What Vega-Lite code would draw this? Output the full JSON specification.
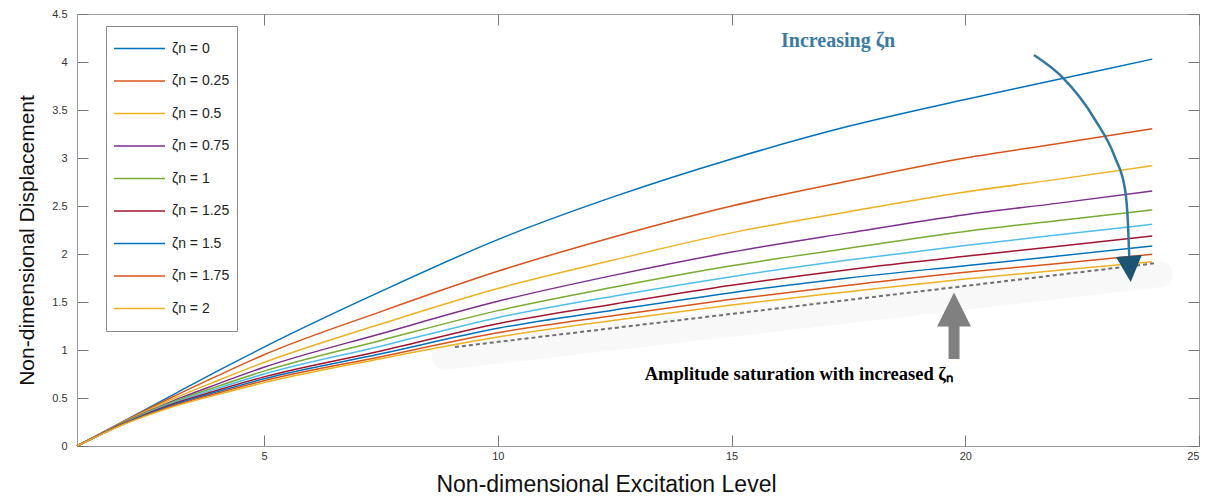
{
  "$schema": "https://vega.github.io/schema/vega-lite/v6.json",
  "width": 1122,
  "height": 432,
  "autosize": "none",
  "padding": {"left": 77, "top": 14, "right": 9, "bottom": 54},
  "background": "white",
  "config": {
    "view": {"stroke": "#a0a0a0", "strokeWidth": 1},
    "font": "Liberation Sans"
  },
  "datasets": {
    "curves": [
      {"x": 1, "y": 0, "s": "ζn = 0"}, {"x": 2, "y": 0.26, "s": "ζn = 0"}, {"x": 3, "y": 0.52, "s": "ζn = 0"}, {"x": 4, "y": 0.78, "s": "ζn = 0"}, {"x": 5, "y": 1.03, "s": "ζn = 0"}, {"x": 7.5, "y": 1.61, "s": "ζn = 0"}, {"x": 10, "y": 2.15, "s": "ζn = 0"}, {"x": 12.5, "y": 2.6, "s": "ζn = 0"}, {"x": 15, "y": 2.99, "s": "ζn = 0"}, {"x": 17.5, "y": 3.33, "s": "ζn = 0"}, {"x": 20, "y": 3.61, "s": "ζn = 0"}, {"x": 22, "y": 3.82, "s": "ζn = 0"}, {"x": 24, "y": 4.03, "s": "ζn = 0"},
      {"x": 1, "y": 0, "s": "ζn = 0.25"}, {"x": 2, "y": 0.255, "s": "ζn = 0.25"}, {"x": 3, "y": 0.5, "s": "ζn = 0.25"}, {"x": 4, "y": 0.73, "s": "ζn = 0.25"}, {"x": 5, "y": 0.95, "s": "ζn = 0.25"}, {"x": 7.5, "y": 1.4, "s": "ζn = 0.25"}, {"x": 10, "y": 1.82, "s": "ζn = 0.25"}, {"x": 12.5, "y": 2.18, "s": "ζn = 0.25"}, {"x": 15, "y": 2.5, "s": "ζn = 0.25"}, {"x": 17.5, "y": 2.76, "s": "ζn = 0.25"}, {"x": 20, "y": 3.0, "s": "ζn = 0.25"}, {"x": 22, "y": 3.15, "s": "ζn = 0.25"}, {"x": 24, "y": 3.305, "s": "ζn = 0.25"},
      {"x": 1, "y": 0, "s": "ζn = 0.5"}, {"x": 2, "y": 0.25, "s": "ζn = 0.5"}, {"x": 3, "y": 0.48, "s": "ζn = 0.5"}, {"x": 4, "y": 0.68, "s": "ζn = 0.5"}, {"x": 5, "y": 0.87, "s": "ζn = 0.5"}, {"x": 7.5, "y": 1.27, "s": "ζn = 0.5"}, {"x": 10, "y": 1.64, "s": "ζn = 0.5"}, {"x": 12.5, "y": 1.94, "s": "ζn = 0.5"}, {"x": 15, "y": 2.22, "s": "ζn = 0.5"}, {"x": 17.5, "y": 2.44, "s": "ζn = 0.5"}, {"x": 20, "y": 2.646, "s": "ζn = 0.5"}, {"x": 22, "y": 2.78, "s": "ζn = 0.5"}, {"x": 24, "y": 2.92, "s": "ζn = 0.5"},
      {"x": 1, "y": 0, "s": "ζn = 0.75"}, {"x": 2, "y": 0.245, "s": "ζn = 0.75"}, {"x": 3, "y": 0.46, "s": "ζn = 0.75"}, {"x": 4, "y": 0.645, "s": "ζn = 0.75"}, {"x": 5, "y": 0.82, "s": "ζn = 0.75"}, {"x": 7.5, "y": 1.17, "s": "ζn = 0.75"}, {"x": 10, "y": 1.507, "s": "ζn = 0.75"}, {"x": 12.5, "y": 1.78, "s": "ζn = 0.75"}, {"x": 15, "y": 2.02, "s": "ζn = 0.75"}, {"x": 17.5, "y": 2.22, "s": "ζn = 0.75"}, {"x": 20, "y": 2.41, "s": "ζn = 0.75"}, {"x": 22, "y": 2.53, "s": "ζn = 0.75"}, {"x": 24, "y": 2.656, "s": "ζn = 0.75"},
      {"x": 1, "y": 0, "s": "ζn = 1"}, {"x": 2, "y": 0.24, "s": "ζn = 1"}, {"x": 3, "y": 0.45, "s": "ζn = 1"}, {"x": 4, "y": 0.62, "s": "ζn = 1"}, {"x": 5, "y": 0.78, "s": "ζn = 1"}, {"x": 7.5, "y": 1.1, "s": "ζn = 1"}, {"x": 10, "y": 1.41, "s": "ζn = 1"}, {"x": 12.5, "y": 1.656, "s": "ζn = 1"}, {"x": 15, "y": 1.877, "s": "ζn = 1"}, {"x": 17.5, "y": 2.06, "s": "ζn = 1"}, {"x": 20, "y": 2.234, "s": "ζn = 1"}, {"x": 22, "y": 2.35, "s": "ζn = 1"}, {"x": 24, "y": 2.46, "s": "ζn = 1"},
      {"x": 1, "y": 0, "s": "unlabelled"}, {"x": 2, "y": 0.235, "s": "unlabelled"}, {"x": 3, "y": 0.44, "s": "unlabelled"}, {"x": 4, "y": 0.6, "s": "unlabelled"}, {"x": 5, "y": 0.75, "s": "unlabelled"}, {"x": 7.5, "y": 1.04, "s": "unlabelled"}, {"x": 10, "y": 1.337, "s": "unlabelled"}, {"x": 12.5, "y": 1.5625, "s": "unlabelled"}, {"x": 15, "y": 1.764, "s": "unlabelled"}, {"x": 17.5, "y": 1.937, "s": "unlabelled"}, {"x": 20, "y": 2.088, "s": "unlabelled"}, {"x": 22, "y": 2.2, "s": "unlabelled"}, {"x": 24, "y": 2.31, "s": "unlabelled"},
      {"x": 1, "y": 0, "s": "ζn = 1.25"}, {"x": 2, "y": 0.232, "s": "ζn = 1.25"}, {"x": 3, "y": 0.43, "s": "ζn = 1.25"}, {"x": 4, "y": 0.58, "s": "ζn = 1.25"}, {"x": 5, "y": 0.72, "s": "ζn = 1.25"}, {"x": 7.5, "y": 0.99, "s": "ζn = 1.25"}, {"x": 10, "y": 1.274, "s": "ζn = 1.25"}, {"x": 12.5, "y": 1.48, "s": "ζn = 1.25"}, {"x": 15, "y": 1.674, "s": "ζn = 1.25"}, {"x": 17.5, "y": 1.837, "s": "ζn = 1.25"}, {"x": 20, "y": 1.976, "s": "ζn = 1.25"}, {"x": 22, "y": 2.08, "s": "ζn = 1.25"}, {"x": 24, "y": 2.1875, "s": "ζn = 1.25"},
      {"x": 1, "y": 0, "s": "ζn = 1.5"}, {"x": 2, "y": 0.23, "s": "ζn = 1.5"}, {"x": 3, "y": 0.42, "s": "ζn = 1.5"}, {"x": 4, "y": 0.565, "s": "ζn = 1.5"}, {"x": 5, "y": 0.7, "s": "ζn = 1.5"}, {"x": 7.5, "y": 0.96, "s": "ζn = 1.5"}, {"x": 10, "y": 1.226, "s": "ζn = 1.5"}, {"x": 12.5, "y": 1.417, "s": "ζn = 1.5"}, {"x": 15, "y": 1.597, "s": "ζn = 1.5"}, {"x": 17.5, "y": 1.75, "s": "ζn = 1.5"}, {"x": 20, "y": 1.878, "s": "ζn = 1.5"}, {"x": 22, "y": 1.98, "s": "ζn = 1.5"}, {"x": 24, "y": 2.083, "s": "ζn = 1.5"},
      {"x": 1, "y": 0, "s": "ζn = 1.75"}, {"x": 2, "y": 0.228, "s": "ζn = 1.75"}, {"x": 3, "y": 0.41, "s": "ζn = 1.75"}, {"x": 4, "y": 0.55, "s": "ζn = 1.75"}, {"x": 5, "y": 0.68, "s": "ζn = 1.75"}, {"x": 7.5, "y": 0.93, "s": "ζn = 1.75"}, {"x": 10, "y": 1.18, "s": "ζn = 1.75"}, {"x": 12.5, "y": 1.36, "s": "ζn = 1.75"}, {"x": 15, "y": 1.528, "s": "ζn = 1.75"}, {"x": 17.5, "y": 1.674, "s": "ζn = 1.75"}, {"x": 20, "y": 1.809, "s": "ζn = 1.75"}, {"x": 22, "y": 1.9, "s": "ζn = 1.75"}, {"x": 24, "y": 1.997, "s": "ζn = 1.75"},
      {"x": 1, "y": 0, "s": "ζn = 2"}, {"x": 2, "y": 0.225, "s": "ζn = 2"}, {"x": 3, "y": 0.4, "s": "ζn = 2"}, {"x": 4, "y": 0.535, "s": "ζn = 2"}, {"x": 5, "y": 0.66, "s": "ζn = 2"}, {"x": 7.5, "y": 0.91, "s": "ζn = 2"}, {"x": 10, "y": 1.135, "s": "ζn = 2"}, {"x": 12.5, "y": 1.31, "s": "ζn = 2"}, {"x": 15, "y": 1.469, "s": "ζn = 2"}, {"x": 17.5, "y": 1.607, "s": "ζn = 2"}, {"x": 20, "y": 1.74, "s": "ζn = 2"}, {"x": 22, "y": 1.83, "s": "ζn = 2"}, {"x": 24, "y": 1.92, "s": "ζn = 2"}
    ],
    "arc": [
      {"x": 21.47, "y": 4.073, "o": 1}, {"x": 22.07, "y": 3.844, "o": 2}, {"x": 22.78, "y": 3.396, "o": 3}, {"x": 23.2, "y": 3.01, "o": 4}, {"x": 23.42, "y": 2.667, "o": 5}, {"x": 23.48, "y": 2.323, "o": 6}, {"x": 23.51, "y": 1.95, "o": 7}
    ]
  },
  "layer": [
    {
      "data": {"values": [{"x": 8.87, "y": 0.93}, {"x": 24.17, "y": 1.79}]},
      "mark": {"type": "line", "color": "#f8f8f8", "strokeWidth": 26, "strokeCap": "round"},
      "encoding": {
        "x": {"field": "x", "type": "quantitative", "scale": {"domain": [1, 25], "nice": false, "zero": false}, "axis": null},
        "y": {"field": "y", "type": "quantitative", "scale": {"domain": [0, 4.5], "nice": false}, "axis": null}
      }
    },
    {
      "data": {"name": "curves"},
      "mark": {"type": "line", "strokeWidth": 1.5, "interpolate": "monotone"},
      "encoding": {
        "x": {"field": "x", "type": "quantitative", "scale": {"domain": [1, 25], "nice": false, "zero": false},
          "axis": {"orient": "bottom", "values": [5, 10, 15, 20, 25], "title": "Non-dimensional Excitation Level", "titleFontSize": 23, "titleFontWeight": "normal", "titleColor": "#111", "titleFont": "Liberation Sans", "titleX": 529, "titleAlign": "center", "labelFont": "Liberation Sans", "labelFontSize": 11, "labelColor": "#333", "tickSize": -11, "tickColor": "#777", "domainColor": "#999", "labelPadding": 15, "titlePadding": 12, "grid": false}},
        "y": {"field": "y", "type": "quantitative", "scale": {"domain": [0, 4.5], "nice": false},
          "axis": {"orient": "left", "values": [0, 0.5, 1, 1.5, 2, 2.5, 3, 3.5, 4, 4.5], "format": "~g", "title": "Non-dimensional Displacement", "titleFontSize": 21, "titleFontWeight": "normal", "titleColor": "#111", "titleFont": "Liberation Sans", "titleY": 226, "titleAlign": "center", "labelFont": "Liberation Sans", "labelFontSize": 11, "labelColor": "#333", "tickSize": -11, "tickColor": "#777", "domainColor": "#999", "labelPadding": 21, "titlePadding": 14, "grid": false}},
        "color": {"field": "s", "type": "nominal",
          "scale": {"domain": ["ζn = 0", "ζn = 0.25", "ζn = 0.5", "ζn = 0.75", "ζn = 1", "unlabelled", "ζn = 1.25", "ζn = 1.5", "ζn = 1.75", "ζn = 2"],
                    "range": ["#0072BD", "#D95319", "#EDB120", "#7E2F8E", "#77AC30", "#4DBEEE", "#A2142F", "#0072BD", "#D95319", "#EDB120"]},
          "legend": {"orient": "none", "legendX": 29, "legendY": 12, "title": null,
            "values": ["ζn = 0", "ζn = 0.25", "ζn = 0.5", "ζn = 0.75", "ζn = 1", "ζn = 1.25", "ζn = 1.5", "ζn = 1.75", "ζn = 2"],
            "symbolType": "stroke", "symbolSize": 2601, "symbolStrokeWidth": 1.5, "clipHeight": 31,
            "labelFontSize": 14, "labelFont": "Liberation Sans", "labelColor": "#222", "labelOffset": 6, "labelLimit": 200,
            "rowPadding": 1.5, "padding": 7, "strokeColor": "#888", "fillColor": "white"}}
      }
    },
    {
      "data": {"values": [{"x": 9.085, "y": 1.031}, {"x": 24.1, "y": 1.906}]},
      "mark": {"type": "line", "color": "#707070", "strokeWidth": 2, "strokeDash": [4, 3]},
      "encoding": {
        "x": {"field": "x", "type": "quantitative", "axis": null},
        "y": {"field": "y", "type": "quantitative", "axis": null}
      }
    },
    {
      "data": {"values": [{"x": 19.76, "y": 0.906, "y2": 1.25}]},
      "mark": {"type": "rule", "color": "#808080", "strokeWidth": 11},
      "encoding": {
        "x": {"field": "x", "type": "quantitative", "axis": null},
        "y": {"field": "y", "type": "quantitative", "axis": null},
        "y2": {"field": "y2"}
      }
    },
    {
      "data": {"values": [{"x": 19.76, "y": 1.422}]},
      "mark": {"type": "point", "shape": "M-1,1L1,1L0,-1Z", "size": 1150, "filled": true, "color": "#808080", "opacity": 1},
      "encoding": {
        "x": {"field": "x", "type": "quantitative", "axis": null},
        "y": {"field": "y", "type": "quantitative", "axis": null}
      }
    },
    {
      "data": {"name": "arc"},
      "mark": {"type": "line", "color": "#2f78a3", "strokeWidth": 2.5, "interpolate": "monotone"},
      "encoding": {
        "x": {"field": "x", "type": "quantitative", "axis": null},
        "y": {"field": "y", "type": "quantitative", "axis": null},
        "order": {"field": "o"}
      }
    },
    {
      "data": {"values": [{"x": 23.52, "y": 1.844}]},
      "mark": {"type": "point", "shape": "M-1,-1L1,-1L0,1Z", "size": 676, "filled": true, "color": "#1b5575", "opacity": 1, "angle": -4},
      "encoding": {
        "x": {"field": "x", "type": "quantitative", "axis": null},
        "y": {"field": "y", "type": "quantitative", "axis": null}
      }
    },
    {
      "data": {"values": [{"x": 16.06, "y": 4.22, "t": "Increasing ζn"}]},
      "mark": {"type": "text", "align": "left", "baseline": "middle", "font": "Liberation Serif", "fontWeight": "bold", "fontSize": 20, "color": "#3a7aa3"},
      "encoding": {
        "x": {"field": "x", "type": "quantitative", "axis": null},
        "y": {"field": "y", "type": "quantitative", "axis": null},
        "text": {"field": "t"}
      }
    },
    {
      "data": {"values": [{"x": 16.44, "y": 0.75, "t": "Amplitude saturation with increased ζₙ"}]},
      "mark": {"type": "text", "align": "center", "baseline": "middle", "font": "Liberation Serif", "fontWeight": "bold", "fontSize": 18.5, "color": "#000000"},
      "encoding": {
        "x": {"field": "x", "type": "quantitative", "axis": null},
        "y": {"field": "y", "type": "quantitative", "axis": null},
        "text": {"field": "t"}
      }
    },
    {
      "data": {"values": [{"x": 1, "y": 0}]},
      "mark": {"type": "point", "opacity": 0},
      "encoding": {
        "x": {"field": "x", "type": "quantitative",
          "axis": {"orient": "top", "values": [5, 10, 15, 20, 25], "labels": false, "title": null, "domain": false, "tickSize": -11, "tickColor": "#777", "grid": false}},
        "y": {"field": "y", "type": "quantitative",
          "axis": {"orient": "right", "values": [0, 0.5, 1, 1.5, 2, 2.5, 3, 3.5, 4, 4.5], "labels": false, "title": null, "domain": false, "tickSize": -11, "tickColor": "#777", "grid": false}}
      }
    }
  ],
  "resolve": {"axis": {"x": "independent", "y": "independent"}}
}
